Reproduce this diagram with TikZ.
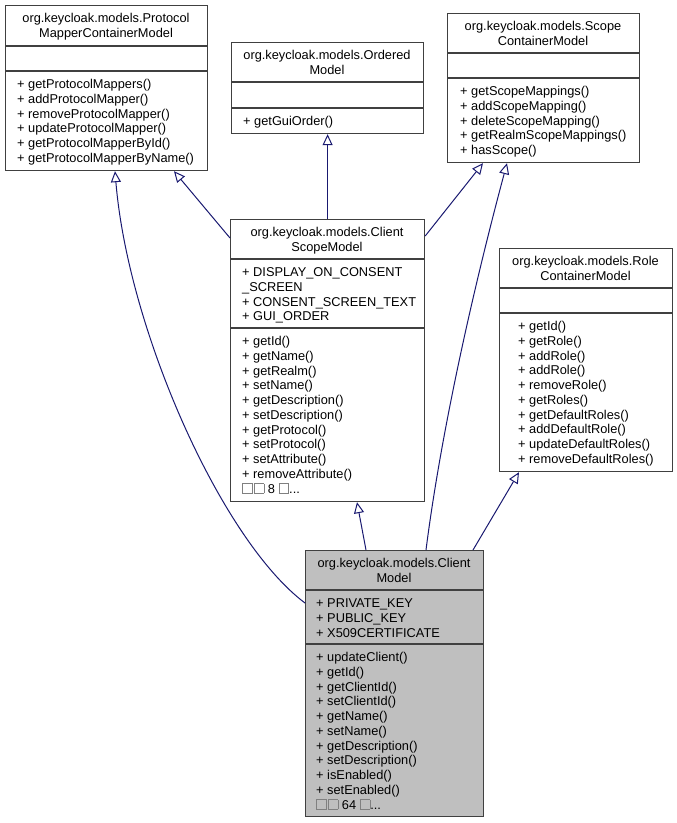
\documentclass[tikz,border=0pt]{standalone}
\usepackage{fontspec}
\setmainfont{Liberation Sans}
\usepackage{tikz}
\usetikzlibrary{arrows.meta}
\definecolor{edgeblue}{RGB}{25,25,112}
\definecolor{boxline}{RGB}{64,64,64}
\definecolor{clientgray}{RGB}{191,191,191}
\newcommand{\umlfont}{\fontsize{12.8}{14.75}\selectfont}
\newcommand{\nglyph}{\textcolor{gray}{\fboxsep=0pt\fboxrule=0.8pt\fbox{\rule{0pt}{9pt}\hspace{9pt}}}}

\begin{document}
\begin{tikzpicture}[x=1pt, y=-1pt,
  classbox/.style={draw=boxline, line width=1.2pt, anchor=north west, inner sep=0pt},
  divider/.style={boxline, line width=1.2pt},
  classtitle/.style={anchor=north, align=center, inner sep=0pt, font=\umlfont},
  members/.style={anchor=north west, align=left, inner sep=0pt, font=\umlfont},
  inherit/.style={edgeblue, line width=1pt, -{Triangle[open, length=11pt, width=10pt]}}]
  \useasboundingbox (0,0) rectangle (677,823);

  % ProtocolMapperContainerModel
  \node[classbox, minimum width=202pt, minimum height=165pt] (pmcm) at (5,5) {};
  \draw[divider] (5,46) -- (207,46);
  \draw[divider] (5,71) -- (207,71);
  \node[classtitle] (pmcmtitle) at (106,12) {\strut org.keycloak.models.Protocol\\MapperContainerModel};
  \node[members] (pmcmops) at (17,78) {\strut + getProtocolMappers()\\+ addProtocolMapper()\\+ removeProtocolMapper()\\+ updateProtocolMapper()\\+ getProtocolMapperById()\\+ getProtocolMapperByName()};

  % OrderedModel
  \node[classbox, minimum width=192pt, minimum height=91pt] (ordered) at (231,42) {};
  \draw[divider] (231,82) -- (423,82);
  \draw[divider] (231,108) -- (423,108);
  \node[classtitle] (orderedtitle) at (327,49) {\strut org.keycloak.models.Ordered\\Model};
  \node[members] (orderedops) at (243,115) {\strut + getGuiOrder()};

  % ScopeContainerModel
  \node[classbox, minimum width=192pt, minimum height=149pt] (scope) at (447,13) {};
  \draw[divider] (447,53) -- (639,53);
  \draw[divider] (447,78) -- (639,78);
  \node[classtitle] (scopetitle) at (543,20) {\strut org.keycloak.models.Scope\\ContainerModel};
  \node[members] (scopeops) at (460,85) {\strut + getScopeMappings()\\+ addScopeMapping()\\+ deleteScopeMapping()\\+ getRealmScopeMappings()\\+ hasScope()};

  % ClientScopeModel
  \node[classbox, minimum width=194pt, minimum height=282pt] (csm) at (230,219) {};
  \draw[divider] (230,259) -- (424,259);
  \draw[divider] (230,328) -- (424,328);
  \node[classtitle] (csmtitle) at (327,226) {\strut org.keycloak.models.Client\\ScopeModel};
  \node[members] (csmattrs) at (242,266) {\strut + DISPLAY\_ON\_CONSENT\\\_SCREEN\\+ CONSENT\_SCREEN\_TEXT\\+ GUI\_ORDER};
  \node[members] (csmops) at (242,335) {\strut + getId()\\+ getName()\\+ getRealm()\\+ setName()\\+ getDescription()\\+ setDescription()\\+ getProtocol()\\+ setProtocol()\\+ setAttribute()\\+ removeAttribute()\\\nglyph\kern1pt\nglyph{} 8 \nglyph...};

  % RoleContainerModel
  \node[classbox, minimum width=173pt, minimum height=223pt] (role) at (499,248) {};
  \draw[divider] (499,288) -- (672,288);
  \draw[divider] (499,313) -- (672,313);
  \node[classtitle] (roletitle) at (585.5,255) {\strut org.keycloak.models.Role\\ContainerModel};
  \node[members] (roleops) at (518,320) {\strut + getId()\\+ getRole()\\+ addRole()\\+ addRole()\\+ removeRole()\\+ getRoles()\\+ getDefaultRoles()\\+ addDefaultRole()\\+ updateDefaultRoles()\\+ removeDefaultRoles()};

  % ClientModel
  \node[classbox, fill=clientgray, minimum width=178pt, minimum height=266pt] (client) at (305,550) {};
  \draw[divider] (305,590) -- (483,590);
  \draw[divider] (305,644) -- (483,644);
  \node[classtitle] (clienttitle) at (394,557) {\strut org.keycloak.models.Client\\Model};
  \node[members] (clientattrs) at (316,597) {\strut + PRIVATE\_KEY\\+ PUBLIC\_KEY\\+ X509CERTIFICATE};
  \node[members] (clientops) at (316,651) {\strut + updateClient()\\+ getId()\\+ getClientId()\\+ setClientId()\\+ getName()\\+ setName()\\+ getDescription()\\+ setDescription()\\+ isEnabled()\\+ setEnabled()\\\nglyph\kern1pt\nglyph{} 64 \nglyph...};

  % Inheritance
  \draw[inherit] ([yshift=-53pt]client.north west) .. controls +(-84,-63) and +(13,158) .. ([xshift=110pt]pmcm.south west);
  \draw[inherit] ([yshift=-19pt]csm.north west) -- ([xshift=169pt]pmcm.south west);
  \draw[inherit] (csm.north) -- (ordered.south);
  \draw[inherit] ([yshift=-17pt]csm.north east) -- ([xshift=36pt]scope.south west);
  \draw[inherit] ([xshift=121pt]client.north west) .. controls +(14,-110) and +(-37,138) .. ([xshift=60pt]scope.south west);
  \draw[inherit] ([xshift=61pt]client.north west) -- ([xshift=127pt]csm.south west);
  \draw[inherit] ([xshift=168pt]client.north west) -- ([xshift=20pt]role.south west);
\end{tikzpicture}
\end{document}
